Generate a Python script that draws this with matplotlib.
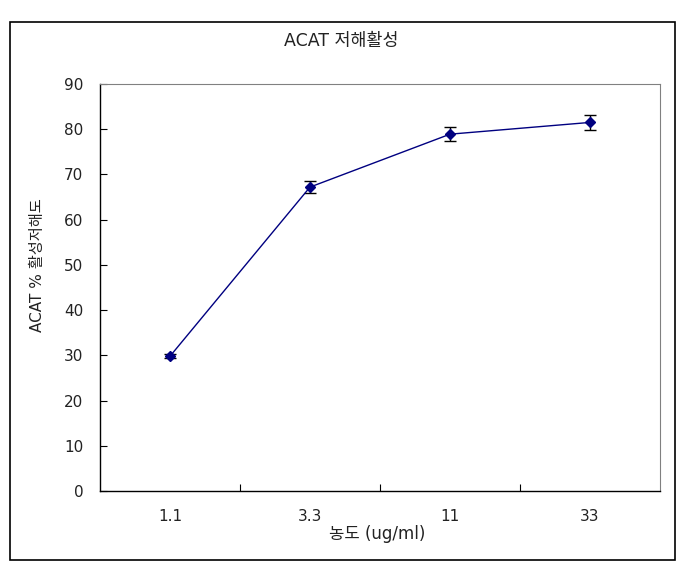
import matplotlib.pyplot as plt
from matplotlib.patches import Rectangle

plt.rcParams['font.family'] = ['DejaVu Sans', 'Noto Sans CJK KR']

# data
concentrations = ["1.1", "3.3", "11", "33"]
inhibition = [29.8, 67.2, 78.9, 81.5]
errors = [0.4, 1.3, 1.6, 1.7]
y_ticks = [0, 10, 20, 30, 40, 50, 60, 70, 80, 90]

fig = plt.figure(figsize=(6.85, 5.76), dpi=100)

# outer chart border (Excel style)
fig.patches.append(Rectangle((0.0146, 0.028), 0.9708, 0.934, transform=fig.transFigure,
                             fill=False, edgecolor="black", linewidth=1.2))

ax = fig.add_axes([0.146, 0.1476, 0.8175, 0.7066])
x = list(range(len(concentrations)))
ax.errorbar(x, inhibition, yerr=errors, color="#000080", marker="D", markersize=5,
            linewidth=1.0, ecolor="black", elinewidth=1.0, capsize=4, capthick=1.0)

ax.set_xlim(-0.5, len(concentrations) - 0.5)
ax.set_ylim(0, 90)
ax.set_yticks(y_ticks)
ax.set_xticks(x)
ax.set_xticklabels(concentrations)
ax.set_xticks([0.5, 1.5, 2.5], minor=True)
ax.tick_params(axis="x", which="major", length=0, pad=13, labelsize=11, labelcolor="#222222")
ax.tick_params(axis="x", which="minor", direction="in", length=5, width=0.8)
ax.tick_params(axis="y", length=5, width=0.8, direction="in", pad=12, labelsize=11,
               labelcolor="#222222")

for side in ["top", "right"]:
    ax.spines[side].set_color("#808080")
    ax.spines[side].set_linewidth(0.8)
for side in ["left", "bottom"]:
    ax.spines[side].set_color("black")
    ax.spines[side].set_linewidth(1.0)

fig.text(0.0547, 0.539, "ACAT % 활성저해도", rotation=90, ha="center", va="center",
         fontsize=11, color="#222222")
fig.text(0.551, 0.073, "농도 (ug/ml)", ha="center", va="center", fontsize=12, color="#222222")
fig.text(0.4985, 0.928, "ACAT 저해활성", ha="center", va="center", fontsize=12.5,
         color="#222222")

fig.savefig("out.png", dpi=100)
